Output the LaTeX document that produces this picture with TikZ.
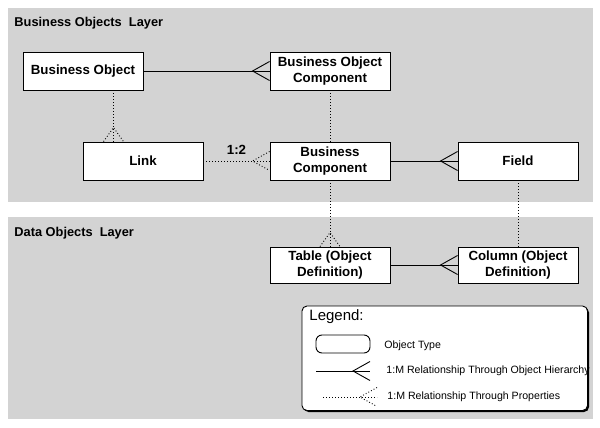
\documentclass[tikz,border=0pt]{standalone}
\usepackage{fontspec}
\setmainfont{Liberation Sans}
\usepackage{tikz}

\definecolor{layergray}{RGB}{211,211,211}

% crow's foot at a west / north anchor
\newcommand{\footW}[2][]{\draw[#1] (#2) ++(0,-9.5) -- ++(-17,9.5) -- ++(17,9.5);}
\newcommand{\footN}[2][]{\draw[#1] (#2) ++(-10,0) -- ++(10,-14) -- ++(10,14);}

\begin{document}
\begin{tikzpicture}[x=1pt, y=-1pt, line width=0.9pt,
    obj/.style={draw, fill=white, minimum width=120pt, minimum height=38pt, inner sep=0pt,
        align=center, font=\fontsize{13.3}{16}\selectfont\bfseries},
    prop/.style={dash pattern=on 0.9pt off 2.1pt},
    lbl/.style={anchor=base west, inner sep=0pt, font=\fontsize{12.8}{15}\selectfont\bfseries},
    legtext/.style={anchor=west, inner sep=0pt, font=\fontsize{10.6}{12}\selectfont}]
        \useasboundingbox (0,0) rectangle (600,428);
        % --- Layers ---
        \fill[layergray] (8,8) rectangle (593,202);
        \fill[layergray] (8,217) rectangle (593,419);
        \node[lbl] (bolayer) at (14,27) {Business Objects~~Layer};
        \node[lbl] (dolayer) at (14,236) {Data Objects~~Layer};
        % --- Object types ---
        \node[obj] (bo) at (83,71) {Business Object};
        \node[obj] (boc) at (330,71) {Business Object\\Component};
        \node[obj] (link) at (143,161) {Link};
        \node[obj] (bc) at (330,161) {Business\\Component};
        \node[obj] (field) at (518,161) {Field};
        \node[obj, minimum height=36pt] (tbl) at (330,265) {Table (Object\\Definition)};
        \node[obj, minimum height=36pt] (col) at (518,265) {Column (Object\\Definition)};
        % --- Relationships ---
        \draw (bo) -- (boc); \footW{boc.west}
        \draw[prop] ([xshift=30.5pt]bo.south) -- ([xshift=-29.5pt]link.north);
        \footN[prop]{[xshift=-29.5pt]link.north}
        \draw[prop] (link) -- (bc) node[midway, above=3pt, font=\fontsize{13.3}{15}\selectfont\bfseries] (ratio) {1:2};
        \footW[prop]{bc.west}
        \draw[prop] (boc) -- (bc);
        \draw (bc) -- (field); \footW{field.west}
        \draw[prop] (bc) -- (tbl); \footN[prop]{tbl.north}
        \draw[prop] (field) -- (col);
        \draw (tbl) -- (col); \footW{col.west}
        % --- Legend ---
        \fill[rounded corners=5pt] (303.5,307.5) rectangle (589,412);
        \draw[fill=white, rounded corners=5pt] (302,306) rectangle (587.5,410.5);
        \node[anchor=west, inner sep=0pt, font=\fontsize{15}{17}\selectfont] (legtitle) at (309,317) {Legend:};
        \node[draw, rounded corners=6pt, minimum width=54pt, minimum height=18pt, inner sep=0pt] (sample) at (343,344) {};
        \node[legtext] (legobj) at (384,346) {Object Type};
        \coordinate (hstart) at (316,371);
        \coordinate (hend) at (370,371);
        \draw (hstart) -- (hend); \footW{hend}
        \node[legtext] (leghier) at (386,371) {1:M Relationship Through Object Hierarchy};
        \coordinate (pstart) at (323,397);
        \coordinate (pend) at (377,397);
        \draw[prop] (pstart) -- (pend); \footW[prop]{pend}
        \node[legtext] (legprop) at (387,397) {1:M Relationship Through Properties};
        % ---
\end{tikzpicture}
\end{document}
